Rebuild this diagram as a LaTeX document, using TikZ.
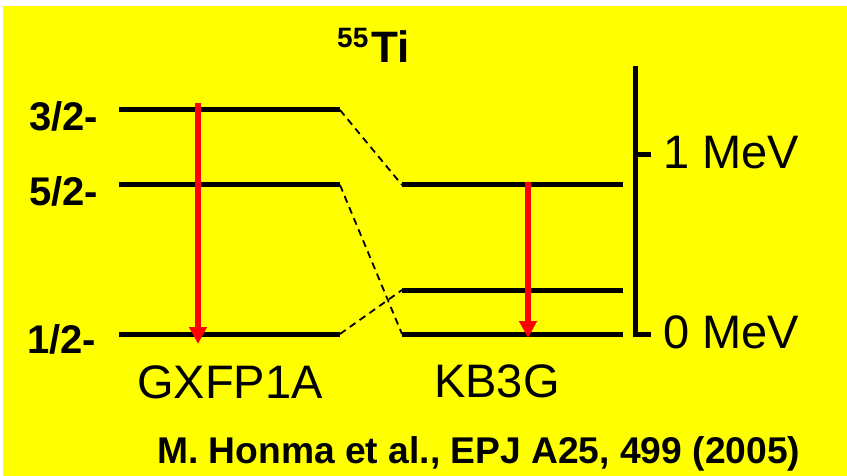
\documentclass[tikz,border=0pt]{standalone}
\usepackage{fontspec}
\setmainfont{Liberation Sans}
\usetikzlibrary{arrows.meta}
\definecolor{bgyellow}{RGB}{255,255,0}
\definecolor{trred}{RGB}{255,0,0}
\begin{document}
\begin{tikzpicture}[x=1pt,y=-1pt,
  levelline/.style={line width=5pt},
  conn/.style={line width=1.8pt, dash pattern=on 7pt off 5pt},
  trans/.style={trred, line width=6pt, -{Triangle[length=17pt,width=17pt]}},
  lbl/.style={inner sep=0pt, anchor=base west},
  spin/.style={lbl, font=\bfseries\fontsize{40}{40}\selectfont},
  big/.style={lbl, font=\fontsize{47}{47}\selectfont}]
\useasboundingbox (0,0) rectangle (847,476);
\fill[white] (0,0) rectangle (847,476);
\fill[bgyellow] (3,6) rectangle (847,476);
% level coordinates
\coordinate (g3L) at (119,110); \coordinate (g3R) at (340,110);
\coordinate (g5L) at (119,185); \coordinate (g5R) at (340,185);
\coordinate (g1L) at (119,334); \coordinate (g1R) at (340,334);
\coordinate (k5L) at (402,185); \coordinate (k5R) at (623,185);
\coordinate (k3L) at (402,290); \coordinate (k3R) at (623,290);
\coordinate (k1L) at (402,334); \coordinate (k1R) at (623,334);
% levels
\draw[levelline] (g3L) -- (g3R);
\draw[levelline] (g5L) -- (g5R);
\draw[levelline] (g1L) -- (g1R);
\draw[levelline] (k5L) -- (k5R);
\draw[levelline] (k3L) -- (k3R);
\draw[levelline] (k1L) -- (k1R);
% dashed correspondences
\draw[conn] (g3R) -- (k5L);
\draw[conn] (g5R) -- (k1L);
\draw[conn] (g1R) -- (k3L);
% transitions
\coordinate (ga) at (198,103); \coordinate (gb) at (198,344);
\coordinate (ka) at (528,182); \coordinate (kb) at (528,338);
\draw[trans] (ga) -- (gb);
\draw[trans] (ka) -- (kb);
% energy scale
\coordinate (axT) at (635,66); \coordinate (axB) at (635,334);
\coordinate (t0) at (651,334);
\coordinate (a1) at (635,155); \coordinate (t1) at (651,155);
\draw[line width=5pt] (axT) -- (axB) -- (t0);
\draw[line width=5pt] (a1) -- (t1);
% labels
\node[spin] (s3) at (29,131) {3/2-};
\node[spin] (s5) at (29,206) {5/2-};
\node[spin] (s1) at (27,353) {1/2-};
\node[big] (e1) at (663,169) {1 MeV};
\node[big] (e0) at (663,348) {0 MeV};
\node[big] (gx) at (137,398) {GXFP1A};
\node[big] (kb3) at (434,397) {KB3G};
\node[lbl, font=\bfseries\fontsize{28}{28}\selectfont] (mass) at (337,48) {55};
\node[lbl, font=\bfseries\fontsize{44}{44}\selectfont] (ti) at (371,63) {Ti};
\node[lbl, font=\bfseries\fontsize{37.2}{37.2}\selectfont] (ref) at (157,463) {M. Honma et al., EPJ A25, 499 (2005)};
\end{tikzpicture}
\end{document}
